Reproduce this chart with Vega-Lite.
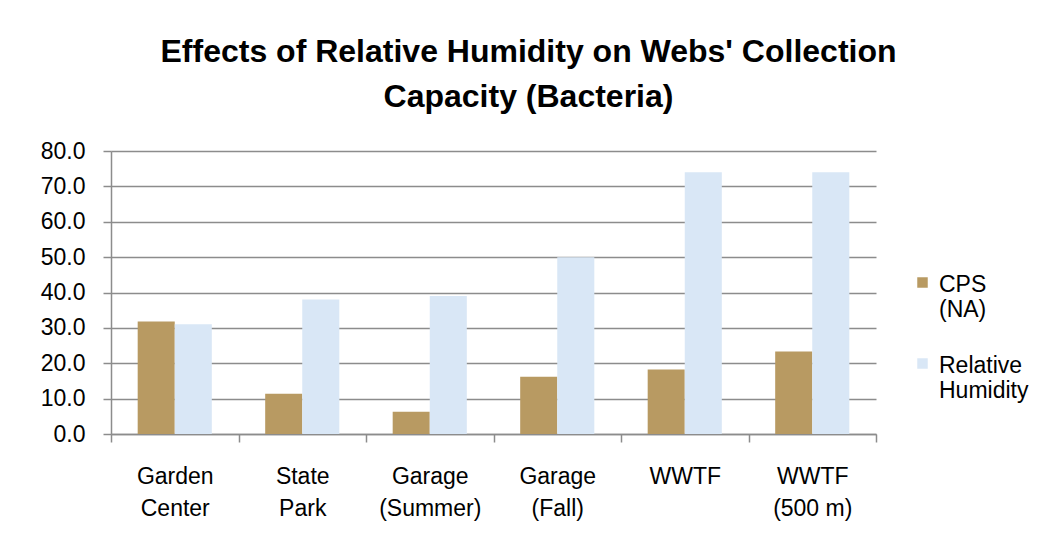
{
  "$schema": "https://vega.github.io/schema/vega-lite/v6.json",
  "width": 765,
  "height": 283,
  "autosize": {"type": "none"},
  "padding": {"left": 111, "top": 151, "right": 181, "bottom": 116},
  "background": "white",
  "config": {
    "view": {"stroke": null},
    "font": "Liberation Sans",
    "axis": {"labelFont": "Liberation Sans", "labelFontSize": 23, "labelColor": "#000000", "titleFont": "Liberation Sans"},
    "legend": {"labelFont": "Liberation Sans", "labelFontSize": 23, "labelColor": "#000000"}
  },
  "title": {
    "text": ["Effects of Relative Humidity on Webs' Collection", "Capacity (Bacteria)"],
    "font": "Liberation Sans",
    "fontSize": 32,
    "fontWeight": "bold",
    "color": "#000000",
    "lineHeight": 45,
    "anchor": "middle",
    "offset": 26,
    "dx": 35
  },
  "data": {
    "values": [
      {"site": "Garden Center", "series": "CPS (NA)", "value": 31.8},
      {"site": "Garden Center", "series": "Relative Humidity", "value": 31.0},
      {"site": "State Park", "series": "CPS (NA)", "value": 11.4},
      {"site": "State Park", "series": "Relative Humidity", "value": 38.0},
      {"site": "Garage (Summer)", "series": "CPS (NA)", "value": 6.3},
      {"site": "Garage (Summer)", "series": "Relative Humidity", "value": 39.0},
      {"site": "Garage (Fall)", "series": "CPS (NA)", "value": 16.2},
      {"site": "Garage (Fall)", "series": "Relative Humidity", "value": 50.0},
      {"site": "WWTF", "series": "CPS (NA)", "value": 18.2},
      {"site": "WWTF", "series": "Relative Humidity", "value": 74.0},
      {"site": "WWTF (500 m)", "series": "CPS (NA)", "value": 23.3},
      {"site": "WWTF (500 m)", "series": "Relative Humidity", "value": 74.0}
    ]
  },
  "mark": {"type": "bar"},
  "encoding": {
    "x": {
      "field": "site",
      "type": "nominal",
      "sort": null,
      "scale": {"paddingInner": 0, "paddingOuter": 0},
      "axis": {
        "title": null,
        "labelAngle": 0,
        "domainColor": "#8c8c8c",
        "domainWidth": 1.5,
        "tickColor": "#8c8c8c",
        "tickWidth": 1.5,
        "tickSize": 8,
        "tickBand": "extent",
        "labelPadding": 23,
        "labelLineHeight": 32,
        "labelBaseline": "top",
        "labelExpr": "indexof(datum.label, ' ') > 0 ? [substring(datum.label, 0, indexof(datum.label, ' ')), substring(datum.label, indexof(datum.label, ' ') + 1)] : datum.label"
      }
    },
    "xOffset": {
      "field": "series",
      "type": "nominal",
      "sort": ["CPS (NA)", "Relative Humidity"],
      "scale": {"paddingInner": 0, "paddingOuter": 0.72}
    },
    "y": {
      "field": "value",
      "type": "quantitative",
      "scale": {"domain": [0, 80], "nice": false},
      "axis": {
        "title": null,
        "values": [0, 10, 20, 30, 40, 50, 60, 70, 80],
        "format": ".1f",
        "domainColor": "#8c8c8c",
        "domainWidth": 1.5,
        "tickColor": "#8c8c8c",
        "tickWidth": 1.5,
        "tickSize": 8,
        "gridColor": "#8c8c8c",
        "gridWidth": 1.5,
        "gridOpacity": 1,
        "labelPadding": 18
      }
    },
    "color": {
      "field": "series",
      "type": "nominal",
      "sort": ["CPS (NA)", "Relative Humidity"],
      "scale": {"domain": ["CPS (NA)", "Relative Humidity"], "range": ["#b89a62", "#d9e7f6"]},
      "legend": {
        "title": null,
        "orient": "none",
        "legendX": 800,
        "legendY": 120,
        "symbolType": "square",
        "symbolSize": 110,
        "symbolStrokeWidth": 0,
        "symbolOpacity": 1,
        "labelLimit": 300,
        "labelLineHeight": 28,
        "labelBaseline": "top",
        "labelOffset": 5,
        "rowPadding": 30,
        "labelExpr": "datum.label == 'CPS (NA)' ? ['CPS', '(NA)'] : ['Relative', 'Humidity']",
        "encode": {"labels": {"update": {"dy": {"value": -9}}}}
      }
    }
  }
}
